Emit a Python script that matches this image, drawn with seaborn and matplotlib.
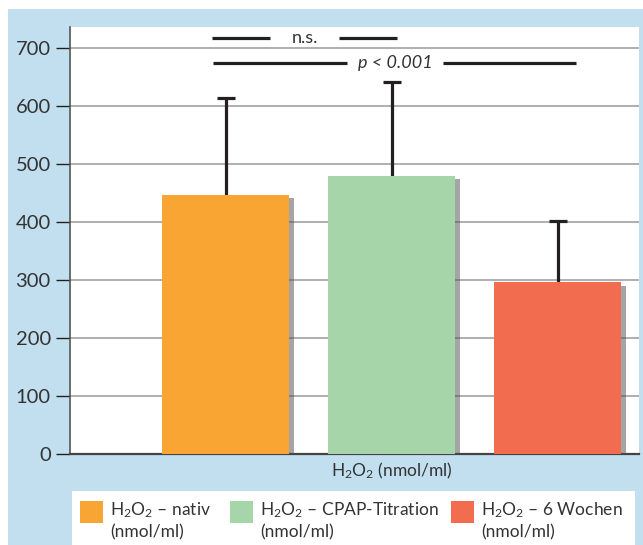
import matplotlib
matplotlib.use("Agg")
import matplotlib.pyplot as plt
import matplotlib.patheffects as pe
from matplotlib.patches import Rectangle
from matplotlib.transforms import blended_transform_factory
import seaborn as sns

# data
groups = ["nativ", "CPAP-Titration", "6 Wochen"]
means = [448, 480, 297]
upper_err = [166, 162, 106]   # mean + err = 614, 642, 403
colors = ["#F9A533", "#A6D5AA", "#F26C4F"]
legend_labels = [r"H$_2$O$_2$ – nativ", r"H$_2$O$_2$ – CPAP-Titration", r"H$_2$O$_2$ – 6 Wochen"]
yticks = [0, 100, 200, 300, 400, 500, 600, 700]

# significance brackets: (x start, gap start, gap end, x end, y, text, italic)
sig_lines = [
    (-0.083, 0.268, 0.684, 1.03, 718, "n.s.", False),
    (-0.077, 0.731, 1.310, 2.11, 675, "p < 0.001", True),
]

dark = "#231f20"
blue_bg = "#C2DFEF"

sns.set_style("white")
plt.rcParams["font.family"] = ["Lato", "DejaVu Sans"]
plt.rcParams["mathtext.fontset"] = "custom"
plt.rcParams["mathtext.rm"] = "Lato"
plt.rcParams["mathtext.it"] = "Lato:italic"

fig = plt.figure(figsize=(6.43, 5.45), dpi=100)
fig.patch.set_facecolor("white")
fig.add_artist(Rectangle((8 / 643, 0), 1, (545 - 9) / 545, transform=fig.transFigure,
                         facecolor=blue_bg, edgecolor="none", zorder=-10))

ax = fig.add_axes([0.1093, 0.1661, 0.8845, 0.7844])
ax.set_facecolor("white")

sns.barplot(x=groups, y=means, hue=groups, palette=colors, width=0.765,
            errorbar=None, legend=False, ax=ax, zorder=3, saturation=1, linewidth=0)
for p in ax.patches:
    p.set_path_effects([pe.SimplePatchShadow(offset=(3.5, -2.5), shadow_rgbFace="0.3", alpha=0.5),
                        pe.Normal()])

eb = ax.errorbar(x=range(len(groups)), y=means, yerr=[[0] * len(groups), upper_err],
                 fmt="none", ecolor=dark, elinewidth=2.3, capsize=6.5, capthick=2.3, zorder=2)
eb[1][0].set_visible(False)  # no lower cap

# significance lines
for x0, g0, g1, x1, y, txt, it in sig_lines:
    ax.plot([x0, g0], [y, y], color=dark, lw=2.3, solid_capstyle="butt", clip_on=False)
    ax.plot([g1, x1], [y, y], color=dark, lw=2.3, solid_capstyle="butt", clip_on=False)
    ax.text((g0 + g1) / 2, y, txt, ha="center", va="center", fontsize=13,
            style="italic" if it else "normal", color="#333333")

ax.set_xlim(-0.935, 2.49)
ax.set_ylim(0, 736.7)
ax.set_yticks(yticks)
ax.yaxis.grid(True, color="#9a9a9a", lw=1.1)
ax.set_axisbelow(True)
ax.tick_params(axis="y", left=True, length=10, width=1, color=dark, pad=4,
               labelsize=14.5, labelcolor="#333333")
ax.tick_params(axis="x", bottom=False, labelbottom=False)
for s in ["top", "right"]:
    ax.spines[s].set_visible(False)
ax.spines["left"].set_color("#555555")
ax.spines["left"].set_linewidth(1.2)
ax.spines["bottom"].set_color("#444444")
ax.spines["bottom"].set_linewidth(1.6)

# x label under the middle bar
trans = blended_transform_factory(ax.transData, ax.transAxes)
ax.text(1, -0.0503, r"H$_2$O$_2$ (nmol/ml)", transform=trans, ha="center", va="baseline",
        fontsize=12.5, color="#333333")

# legend box drawn by hand
fig.add_artist(Rectangle((72 / 643, 0), (635 - 72) / 643, 54 / 545, transform=fig.transFigure,
                         facecolor="white", edgecolor="none", zorder=-5))
leg_x = [80, 230, 451]
for lx, col, lab in zip(leg_x, colors, legend_labels):
    fig.add_artist(Rectangle((lx / 643, 22 / 545), 23 / 643, 22 / 545, transform=fig.transFigure,
                             facecolor=col, edgecolor="none"))
    fig.text((lx + 30) / 643, 30 / 545, lab, fontsize=12.5, color="#333333", va="baseline")
    fig.text((lx + 30) / 643, 8 / 545, "(nmol/ml)", fontsize=12.5, color="#333333", va="baseline")

fig.savefig("out.png", dpi=100)
